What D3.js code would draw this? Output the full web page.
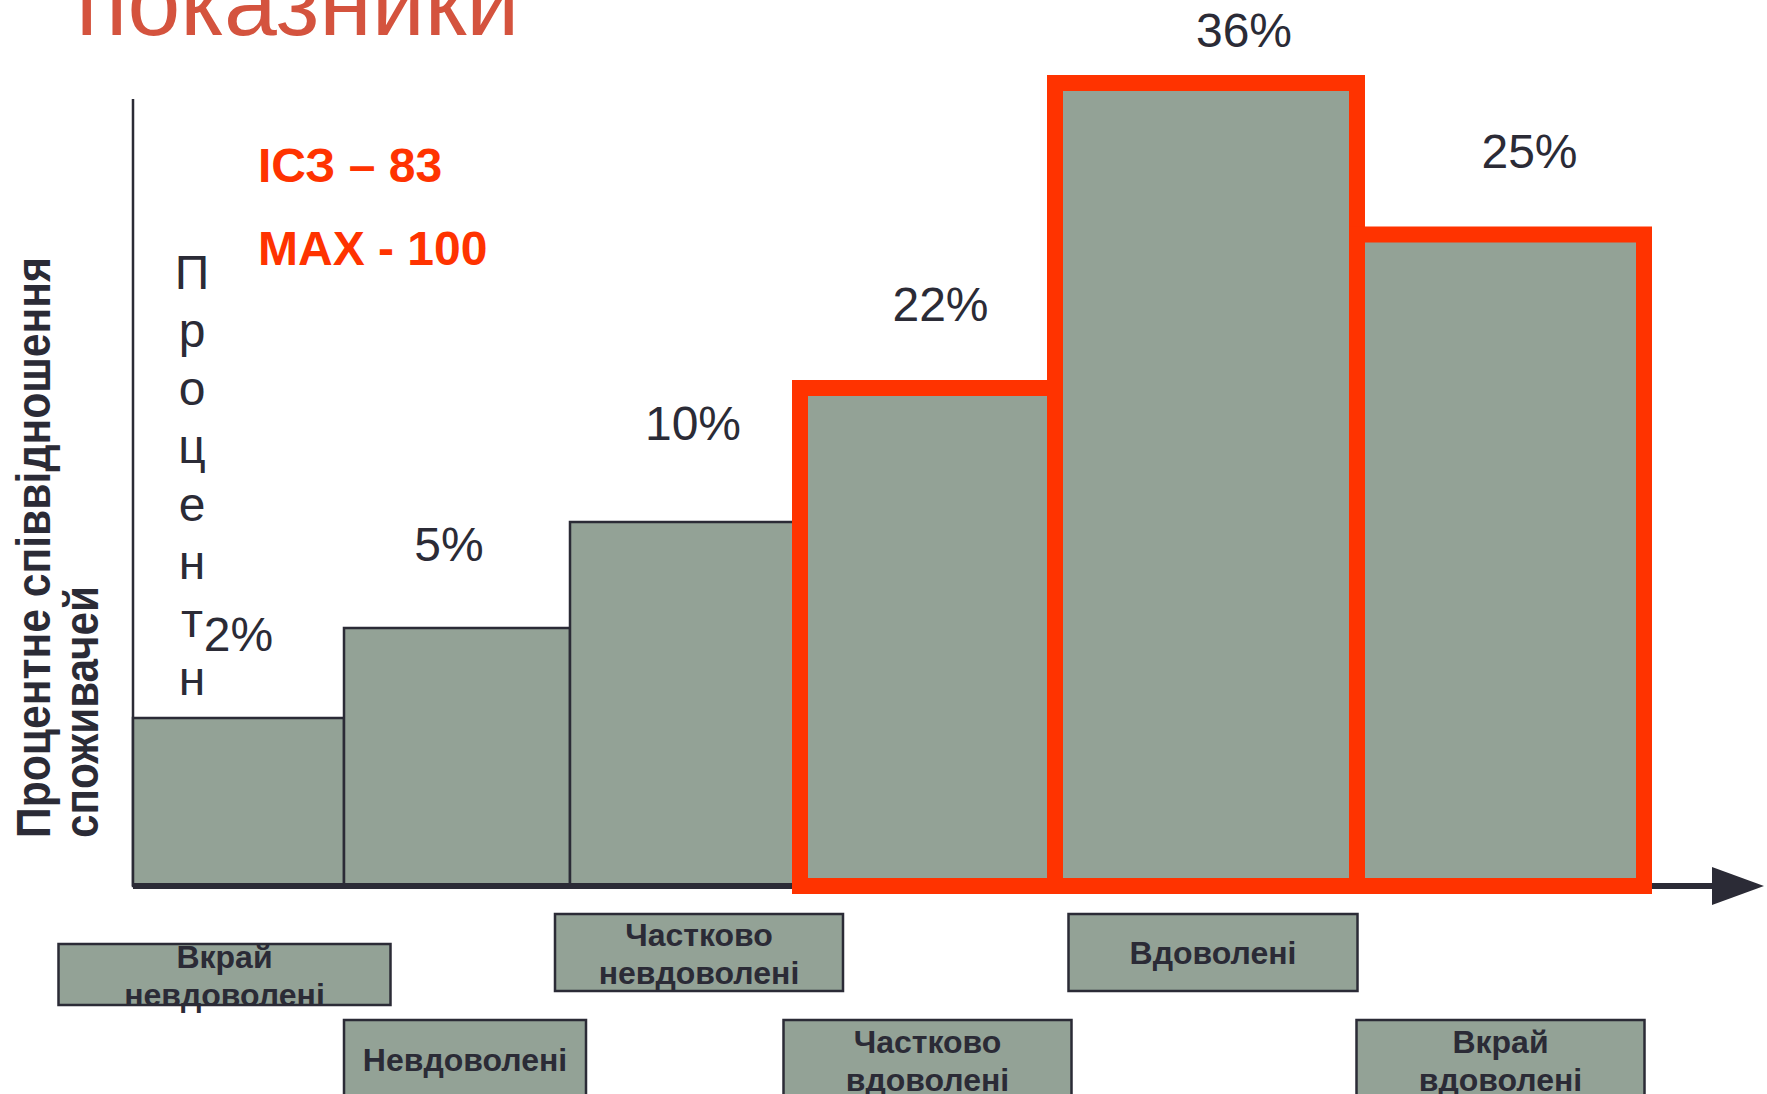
<!DOCTYPE html>
<html>
<head>
<meta charset="utf-8">
<script src="https://cdn.jsdelivr.net/npm/d3@7"></script>
<style>
  html, body { margin: 0; padding: 0; background: #ffffff; overflow: hidden; }
  svg { display: block; }
</style>
</head>
<body>
<svg id="chart" width="1767" height="1094"></svg>
<script>
// ---------------- data ----------------
const categories = ["Вкрай невдоволені", "Невдоволені", "Частково невдоволені",
                    "Частково вдоволені", "Вдоволені", "Вкрай вдоволені"];
const categoryLines = [["Вкрай", "невдоволені"], ["Невдоволені"], ["Частково", "невдоволені"],
                       ["Частково", "вдоволені"], ["Вдоволені"], ["Вкрай", "вдоволені"]];
const shares = [2, 5, 10, 22, 36, 25];              // % of consumers
const highlighted = [false, false, false, true, true, true];
const titleText = "показники";
const yAxisTitle = ["Процентне співвідношення", "споживачей"];
const yAxisWord = "Процентн";
const indexLines = ["ІСЗ – 83", "MAX - 100"];

// ---------------- layout / style ----------------
const FONT = "'Liberation Sans', Arial, Helvetica, sans-serif";
const DARK = "#2b2b36";
const GREY = "#93a296";
const RED = "#ff3300";
const TITLE = "#d4533e";
// hand-placed nudges of value labels (dx, dy) relative to bar centre / top
const labelNudge = [[0, 0], [-8, 0], [8, -15], [13, 0], [38, 0], [29, 0]];
// category boxes: tier, horizontal shift from bar centre, width
const tiers = [{ y: 914, h: 77 }, { y: 944, h: 61 }, { y: 1020, h: 80 }];
const boxTier = [1, 2, 0, 2, 0, 2];
const boxShift = [-14, 8, 14, 0, 7, 0];
const boxWidth = [332, 242, 288, 288, 289, 288];

const svg = d3.select("#chart");

// band edges for the (unequal-width) columns
const x = d3.scaleLinear().domain([0, 1, 2, 3, 4, 5, 6])
  .range([133, 344, 570, 800, 1055, 1357, 1644]);
// the hand-drawn picture uses a non-proportional value axis -> piecewise scale
const y = d3.scaleLinear().domain([0, 2, 5, 10, 22, 25, 36])
  .range([886, 718, 628, 522, 388, 234.5, 83]);

const rows = shares.map((v, i) => ({ v, i, cat: categories[i], hi: highlighted[i] }));
const cx = i => (x(i) + x(i + 1)) / 2;

// title (partly cut off at the top like the slide)
svg.append("text").attr("x", 76).attr("y", 35)
  .attr("font-family", FONT).attr("font-size", 95).attr("fill", TITLE)
  .text(titleText);

// y axis line
svg.append("line").attr("x1", x(0)).attr("x2", x(0)).attr("y1", 99).attr("y2", y(0))
  .attr("stroke", DARK).attr("stroke-width", 2.5);

// grey bars
svg.append("g").selectAll("rect").data(rows).join("rect")
  .attr("x", d => x(d.i)).attr("width", d => x(d.i + 1) - x(d.i))
  .attr("y", d => y(d.v)).attr("height", d => y(0) - y(d.v))
  .attr("fill", GREY)
  .attr("stroke", d => d.hi ? "none" : DARK).attr("stroke-width", 2.5);

// x axis with arrow
svg.append("line").attr("x1", x(0)).attr("x2", 1714).attr("y1", y(0)).attr("y2", y(0))
  .attr("stroke", DARK).attr("stroke-width", 6);
svg.append("path")
  .attr("d", `M1712,${y(0) - 19} L1764,${y(0)} L1712,${y(0) + 19} Z`)
  .attr("fill", DARK);

// red outlines for satisfied groups
svg.append("g").selectAll("rect").data(rows.filter(d => d.hi)).join("rect")
  .attr("x", d => x(d.i)).attr("width", d => x(d.i + 1) - x(d.i))
  .attr("y", d => y(d.v)).attr("height", d => y(0) - y(d.v))
  .attr("fill", "none").attr("stroke", RED).attr("stroke-width", 16);

// value labels
svg.append("g").selectAll("text").data(rows).join("text")
  .attr("x", d => cx(d.i) + labelNudge[d.i][0])
  .attr("y", d => Math.max(y(d.v) - 67, 47) + labelNudge[d.i][1])
  .attr("text-anchor", "middle")
  .attr("font-family", FONT).attr("font-size", 48).attr("fill", DARK)
  .text(d => d.v + "%");

// index text
svg.append("g").selectAll("text").data(indexLines).join("text")
  .attr("x", 258).attr("y", (d, i) => 182 + i * 83)
  .attr("font-family", FONT).attr("font-size", 48).attr("font-weight", "bold")
  .attr("fill", RED).text(d => d);

// stacked vertical word
svg.append("g").selectAll("text").data(Array.from(yAxisWord)).join("text")
  .attr("x", 192).attr("y", (d, i) => 289 + i * 58)
  .attr("text-anchor", "middle")
  .attr("font-family", FONT).attr("font-size", 48).attr("fill", DARK)
  .text(d => d);

// rotated y-axis title
const yTitleLen = [581, 252];
yAxisTitle.forEach((t, i) => {
  svg.append("text")
    .attr("transform", `translate(${50 + i * 48},838) rotate(-90)`)
    .attr("font-family", FONT).attr("font-size", 48).attr("font-weight", "bold")
    .attr("fill", DARK)
    .attr("textLength", yTitleLen[i]).attr("lengthAdjust", "spacingAndGlyphs")
    .text(t);
});

// category boxes below the axis (staggered tiers)
const boxes = svg.append("g").selectAll("g").data(rows).join("g");
boxes.append("rect")
  .attr("x", d => cx(d.i) + boxShift[d.i] - boxWidth[d.i] / 2)
  .attr("width", d => boxWidth[d.i])
  .attr("y", d => tiers[boxTier[d.i]].y)
  .attr("height", d => tiers[boxTier[d.i]].h)
  .attr("fill", GREY).attr("stroke", DARK).attr("stroke-width", 2.5);
boxes.each(function (d) {
  const t = tiers[boxTier[d.i]];
  const cy = t.y + t.h / 2;
  const bx = cx(d.i) + boxShift[d.i];
  const lines = categoryLines[d.i];
  const base = lines.length === 2 ? [cy - 7, cy + 31] : [cy + 11];
  d3.select(this).selectAll("text").data(lines).join("text")
    .attr("x", bx).attr("y", (l, k) => base[k])
    .attr("text-anchor", "middle")
    .attr("font-family", FONT).attr("font-size", 32).attr("font-weight", "bold")
    .attr("fill", DARK).text(l => l);
});
</script>
</body>
</html>
